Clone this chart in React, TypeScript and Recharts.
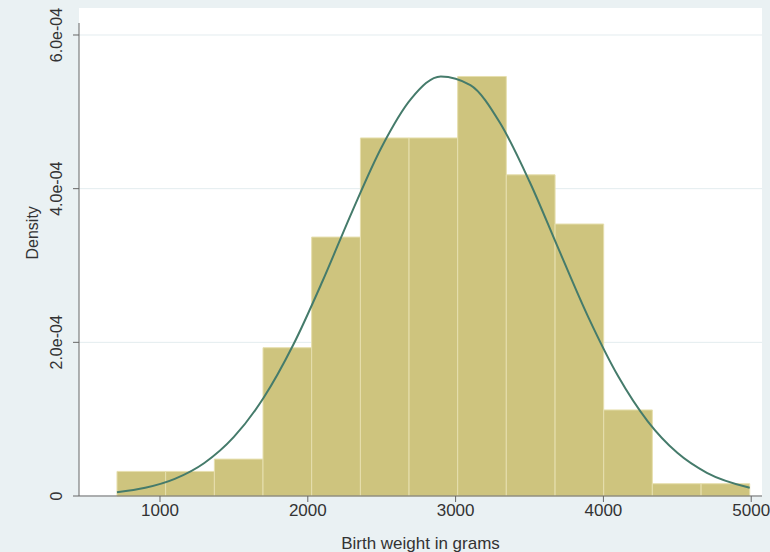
import { ComposedChart, Line, XAxis, YAxis, CartesianGrid, ReferenceArea } from "recharts";

// histogram bins (grams) and density
const binEdges = [709, 1038, 1368, 1697, 2026, 2356, 2685, 3014, 3343, 3673, 4002, 4331, 4661, 4990];
const binDensity = [3.2e-5, 3.2e-5, 4.8e-5, 1.93e-4, 3.37e-4, 4.66e-4, 4.66e-4, 5.46e-4, 4.18e-4, 3.54e-4, 1.12e-4, 1.6e-5, 1.6e-5];

// normal density overlay
const curveX = [709, 900, 1100, 1300, 1500, 1700, 1900, 2100, 2300, 2500, 2700, 2900, 3100, 3300, 3500, 3700, 3900, 4100, 4300, 4500, 4700, 4990];
const curveY = [
  5.0e-6, 1.07e-5, 2.23e-5, 4.3e-5, 7.69e-5, 1.275e-4, 1.961e-4, 2.798e-4, 3.702e-4, 4.543e-4, 5.172e-4,
  5.461e-4, 5.348e-4, 4.858e-4, 4.093e-4, 3.199e-4, 2.319e-4, 1.558e-4, 9.72e-5, 5.62e-5, 3.02e-5, 1.07e-5,
];

const xTicks = [1000, 2000, 3000, 4000, 5000];
const yTicks = [0, 2e-4, 4e-4, 6e-4];
const yTickLabels = ["0", "2.0e-04", "4.0e-04", "6.0e-04"];

const curveData = curveX.map((x, i) => ({ x, y: curveY[i] }));

const BG = "#eaf1f3";
const BAR_FILL = "#cec47e";
const BAR_EDGE = "#e6dfae";
const CURVE = "#457b6b";
const AXIS = "#666";
const TEXT = "#333";
const FONT = "Arial, 'Liberation Sans', Helvetica, sans-serif";

function YTick({ x, y, payload }: any) {
  const i = yTicks.indexOf(payload.value);
  return (
    <text
      x={x}
      y={y}
      transform={`rotate(-90, ${x}, ${y})`}
      textAnchor="middle"
      dy={-9}
      fill={TEXT}
      fontSize={16}
      fontFamily={FONT}
    >
      {i >= 0 ? yTickLabels[i] : ""}
    </text>
  );
}

export default function App() {
  return (
    <div style={{ position: "fixed", left: 0, top: 0, width: 770, height: 552, background: BG }}>
      <div style={{ position: "absolute", left: 79, top: 8, width: 683, height: 489, background: "#fff" }} />
      <div style={{ position: "absolute", left: 0, top: 0 }}>
        <ComposedChart width={770} height={552} data={curveData} margin={{ top: 23, right: 8, bottom: 0, left: 0 }}>
          <CartesianGrid vertical={false} horizontal stroke="#e3ecef" horizontalValues={yTicks} />
          <XAxis
            dataKey="x"
            type="number"
            domain={[452, 5073]}
            allowDataOverflow
            ticks={xTicks}
            tickSize={6}
            tickLine={{ stroke: AXIS }}
            axisLine={{ stroke: AXIS }}
            tick={{ fill: TEXT, fontSize: 17, fontFamily: FONT }}
            height={56}
            label={{ value: "Birth weight in grams", position: "insideBottom", offset: 3, fill: TEXT, fontSize: 17, fontFamily: FONT }}
          />
          <YAxis
            type="number"
            domain={[0, 6.156e-4]}
            allowDataOverflow
            ticks={yTicks}
            tickSize={6}
            tickLine={{ stroke: AXIS }}
            axisLine={{ stroke: AXIS }}
            tick={<YTick />}
            width={79}
            label={{ value: "Density", angle: -90, position: "insideLeft", offset: 32, fill: TEXT, fontSize: 16, fontFamily: FONT }}
          />
          {binDensity.map((d, i) => (
            <ReferenceArea
              key={i}
              x1={binEdges[i]}
              x2={binEdges[i + 1]}
              y1={0}
              y2={d}
              fill={BAR_FILL}
              fillOpacity={1}
              stroke={BAR_EDGE}
              strokeWidth={1}
              ifOverflow="visible"
            />
          ))}
          <Line dataKey="y" type="monotone" stroke={CURVE} strokeWidth={2} dot={false} isAnimationActive={false} />
        </ComposedChart>
      </div>
    </div>
  );
}
